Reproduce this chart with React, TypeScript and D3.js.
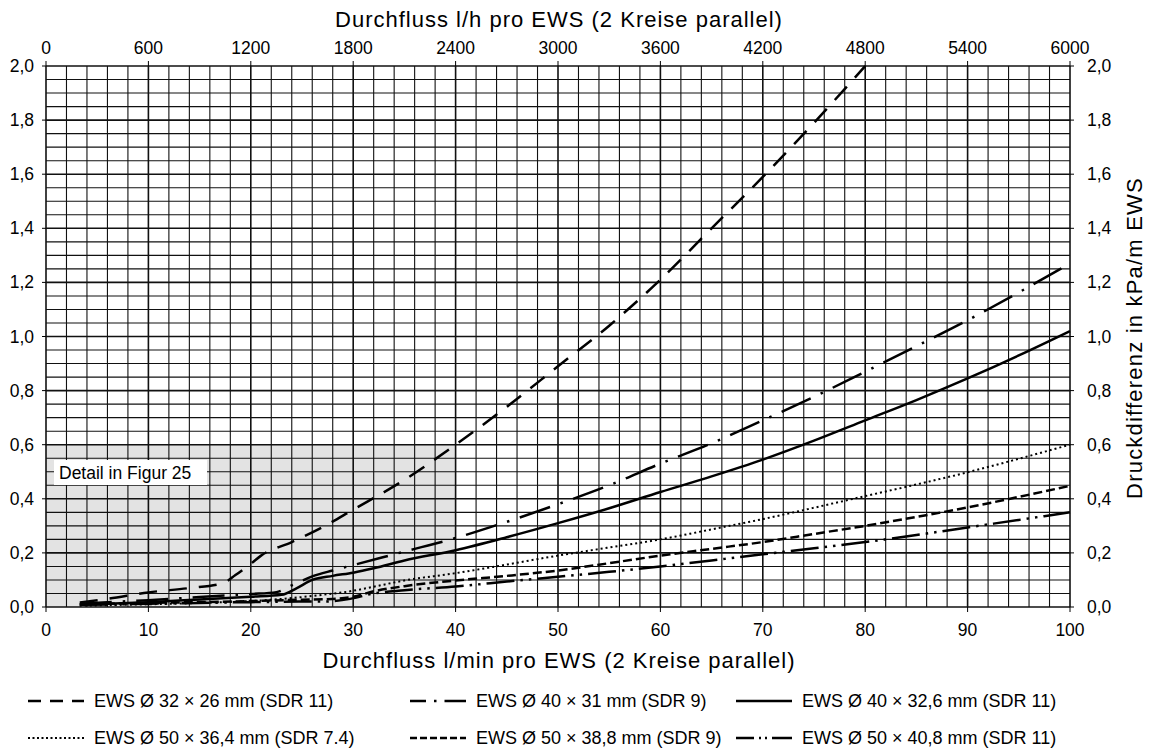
import React from 'react';
import * as d3 from 'd3';

// flow in l/min per EWS, pressure drop in kPa/m
const ews32x26X = [3.3, 6, 10, 14, 17.3, 18.5, 20, 21, 24, 27, 30, 35, 40, 45, 50, 55, 60, 65, 70, 75, 80];
const ews32x26Y = [0.017, 0.03, 0.054, 0.07, 0.088, 0.118, 0.16, 0.19, 0.24, 0.295, 0.36, 0.47, 0.6, 0.74, 0.89, 1.04, 1.21, 1.4, 1.59, 1.79, 2.0];

const ews40x31X = [3.3, 6, 10, 15, 20, 22.5, 24, 26, 28, 30, 35, 40, 45, 50, 55, 60, 65, 70, 75, 80, 85, 90, 95, 100];
const ews40x31Y = [0.012, 0.018, 0.025, 0.037, 0.048, 0.055, 0.08, 0.113, 0.135, 0.155, 0.205, 0.255, 0.315, 0.38, 0.45, 0.53, 0.605, 0.69, 0.777, 0.87, 0.964, 1.06, 1.163, 1.27];

const ews40x326X = [3.3, 10, 15, 20, 23, 24.5, 26, 28, 30, 32, 35, 40, 45, 50, 55, 60, 65, 70, 75, 80, 85, 90, 95, 100];
const ews40x326Y = [0.008, 0.018, 0.028, 0.038, 0.045, 0.07, 0.1, 0.115, 0.127, 0.143, 0.172, 0.21, 0.258, 0.31, 0.365, 0.425, 0.483, 0.545, 0.615, 0.69, 0.765, 0.845, 0.93, 1.02];

const ews50x364X = [3.3, 10, 15, 20, 24, 27, 30, 32, 35, 40, 45, 50, 55, 60, 65, 70, 75, 80, 85, 90, 95, 100];
const ews50x364Y = [0.005, 0.01, 0.015, 0.022, 0.033, 0.045, 0.06, 0.075, 0.098, 0.125, 0.157, 0.19, 0.22, 0.25, 0.287, 0.325, 0.367, 0.41, 0.453, 0.498, 0.548, 0.6];

const ews50x388X = [3.3, 10, 20, 25, 28, 30, 32, 35, 40, 45, 50, 55, 60, 65, 70, 75, 80, 85, 90, 95, 100];
const ews50x388Y = [0.01, 0.015, 0.022, 0.027, 0.03, 0.038, 0.058, 0.077, 0.098, 0.115, 0.135, 0.162, 0.19, 0.215, 0.24, 0.27, 0.3, 0.333, 0.368, 0.407, 0.448];

const ews50x408X = [3.3, 10, 20, 25, 27, 29.7, 32, 35, 40, 45, 50, 55, 60, 65, 70, 75, 80, 85, 90, 95, 100];
const ews50x408Y = [0.008, 0.012, 0.018, 0.02, 0.02, 0.03, 0.05, 0.062, 0.076, 0.094, 0.112, 0.13, 0.15, 0.172, 0.195, 0.217, 0.24, 0.266, 0.294, 0.322, 0.35];

const legendLabels = [
  'EWS Ø 32 × 26 mm (SDR 11)',
  'EWS Ø 40 × 31 mm (SDR 9)',
  'EWS Ø 40 × 32,6 mm (SDR 11)',
  'EWS Ø 50 × 36,4 mm (SDR 7.4)',
  'EWS Ø 50 × 38,8 mm (SDR 9)',
  'EWS Ø 50 × 40,8 mm (SDR 11)',
];

const series = [
  { xs: ews32x26X, ys: ews32x26Y, dash: '18,12', legendDash: '13,9', w: 2.5 },
  { xs: ews40x31X, ys: ews40x31Y, dash: '32,11,2.5,11', legendDash: '16,8,2.5,8,30', w: 2.5 },
  { xs: ews40x326X, ys: ews40x326Y, dash: null, legendDash: null, w: 2.5 },
  { xs: ews50x364X, ys: ews50x364Y, dash: '2,3', legendDash: '2,2.5', w: 2 },
  { xs: ews50x388X, ys: ews50x388Y, dash: '9,4', legendDash: '7,3', w: 2.5 },
  { xs: ews50x408X, ys: ews50x408Y, dash: '28,6,2.5,6,2.5,6', legendDash: '18,5,2,4,2,5,30', w: 2.5 },
];

const W = 1156;
const H = 751;
const left = 46, right = 1070, top = 66, bottom = 607;
const FONT = '"Liberation Sans", Arial, sans-serif';

export default function App() {
  const x = d3.scaleLinear().domain([0, 100]).range([left, right]);
  const xTop = d3.scaleLinear().domain([0, 6000]).range([left, right]);
  const y = d3.scaleLinear().domain([0, 2]).range([bottom, top]);
  const fmt = (v: number) => d3.format('.1f')(v).replace('.', ',');

  const line = d3.line<[number, number]>()
    .x(d => x(d[0]))
    .y(d => y(d[1]))
    .curve(d3.curveMonotoneX);

  const vGrid = d3.range(0, 101, 2);
  const hGrid = d3.range(0, 41).map(i => i * 0.05);

  const legendCols = [28, 410, 736];
  const legendRows = [701, 738];

  return (
    <svg width={W} height={H} style={{ position: 'absolute', left: 0, top: 0, background: '#fff' }} fontFamily={FONT}>
      {/* detail area */}
      <rect x={x(0)} y={y(0.6)} width={x(40) - x(0)} height={y(0) - y(0.6)} fill="#e3e3e3" />

      {/* grid */}
      {vGrid.map(v => (
        <line key={'v' + v} x1={x(v)} x2={x(v)} y1={top} y2={bottom}
          stroke="#111" strokeWidth={v % 10 === 0 ? 1.6 : 1.1} />
      ))}
      {hGrid.map((v, i) => (
        <line key={'h' + i} x1={left} x2={right} y1={y(v)} y2={y(v)}
          stroke="#111" strokeWidth={i % 4 === 0 ? 1.6 : 1.1} />
      ))}

      {/* ticks */}
      {d3.range(0, 101, 10).map(v => (
        <g key={'bt' + v}>
          <line x1={x(v)} x2={x(v)} y1={bottom} y2={bottom + 5} stroke="#000" />
          <text x={x(v)} y={630} fontSize={17.5} textAnchor="middle" dominantBaseline="central">{v}</text>
        </g>
      ))}
      {d3.range(0, 6001, 600).map(v => (
        <g key={'tt' + v}>
          <line x1={xTop(v)} x2={xTop(v)} y1={top} y2={top - 5} stroke="#000" />
          <text x={xTop(v)} y={48} fontSize={17.5} textAnchor="middle" dominantBaseline="central">{v}</text>
        </g>
      ))}
      {d3.range(0, 11).map(i => i * 0.2).map(v => (
        <g key={'yt' + v}>
          <line x1={left - 4} x2={left} y1={y(v)} y2={y(v)} stroke="#000" />
          <line x1={right} x2={right + 4} y1={y(v)} y2={y(v)} stroke="#000" />
          <text x={34} y={y(v)} fontSize={17.5} textAnchor="end" dominantBaseline="central">{fmt(v)}</text>
          <text x={1087} y={y(v)} fontSize={17.5} textAnchor="start" dominantBaseline="central">{fmt(v)}</text>
        </g>
      ))}

      {/* detail label */}
      <rect x={54} y={460} width={153} height={25} fill="#fff" />
      <text x={59} y={473} fontSize={17.5} dominantBaseline="central">Detail in Figur 25</text>

      {/* curves */}
      {series.map((s, i) => (
        <path key={'s' + i}
          d={line(s.xs.map((v, j) => [v, s.ys[j]] as [number, number])) || ''}
          fill="none" stroke="#000" strokeWidth={s.w}
          strokeDasharray={s.dash || undefined} />
      ))}

      {/* axis titles */}
      <text x={559} y={19} fontSize={22} letterSpacing={1} textAnchor="middle" dominantBaseline="central">
        Durchfluss l/h pro EWS (2 Kreise parallel)
      </text>
      <text x={559} y={660} fontSize={22} letterSpacing={1} textAnchor="middle" dominantBaseline="central">
        Durchfluss l/min pro EWS (2 Kreise parallel)
      </text>
      <text transform="translate(1134,338) rotate(-90)" fontSize={22} letterSpacing={1.2} textAnchor="middle" dominantBaseline="central">
        Druckdifferenz in kPa/m EWS
      </text>

      {/* legend */}
      {series.map((s, i) => {
        const cx = legendCols[i % 3];
        const cy = legendRows[Math.floor(i / 3)];
        return (
          <g key={'lg' + i}>
            <line x1={cx} x2={cx + 56} y1={cy} y2={cy} stroke="#000" strokeWidth={s.w}
              strokeDasharray={s.legendDash || undefined} />
            <text x={cx + 66} y={cy} fontSize={18} dominantBaseline="central">{legendLabels[i]}</text>
          </g>
        );
      })}
    </svg>
  );
}
